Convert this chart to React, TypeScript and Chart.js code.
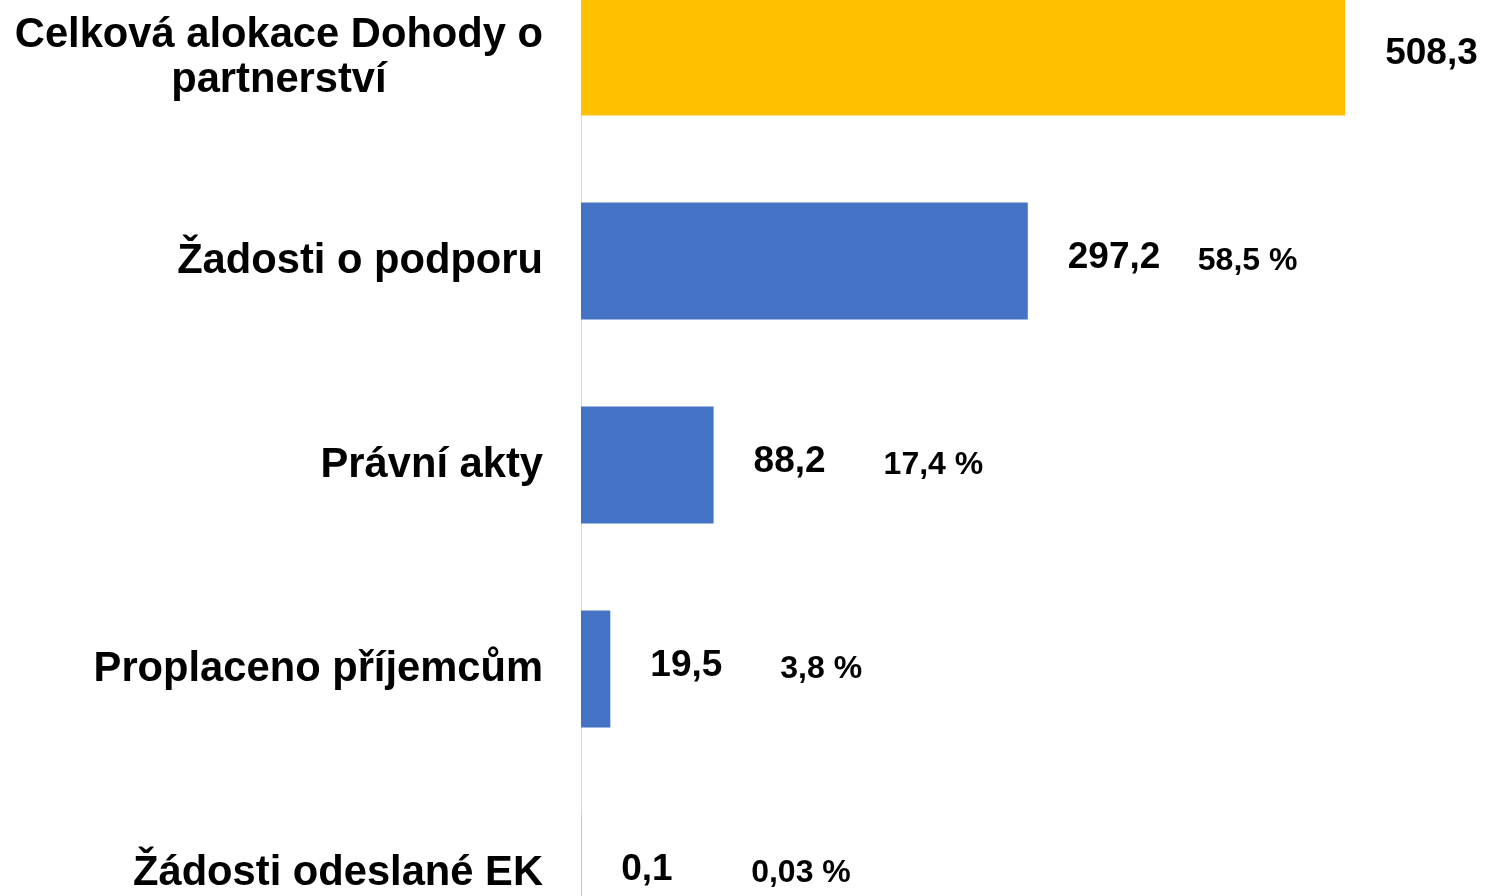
import React, { useEffect, useRef } from "react";
import { Chart, registerables } from "chart.js";

Chart.register(...registerables);

const categories: string[][] = [
  ["Celková alokace Dohody o", "partnerství"],
  ["Žadosti o podporu"],
  ["Právní akty"],
  ["Proplaceno příjemcům"],
  ["Žádosti odeslané EK"],
];
const values: number[] = [508.3, 297.2, 88.2, 19.5, 0.1];
const valueLabels: string[] = ["508,3", "297,2", "88,2", "19,5", "0,1"];
const percentLabels: string[] = ["", "58,5 %", "17,4 %", "3,8 %", "0,03 %"];
const barColors: string[] = ["#FFC000", "#4472C4", "#4472C4", "#4472C4", "#4472C4"];

const FONT = "'Liberation Sans', Arial, sans-serif";

const labelPlugin = {
  id: "customLabels",
  afterDraw(chart: any) {
    const ctx = chart.ctx;
    const yScale = chart.scales.y;
    const xScale = chart.scales.x;
    const area = chart.chartArea;
    ctx.save();
    ctx.fillStyle = "#000000";
    // category labels
    ctx.font = `bold 41.7px ${FONT}`;
    ctx.textBaseline = "middle";
    const rightEdge = area.left - 38;
    categories.forEach((lines, i) => {
      const cy = yScale.getPixelForValue(i);
      const widths = lines.map((l) => ctx.measureText(l).width);
      const maxW = Math.max(...widths);
      const blockCenter = rightEdge - maxW / 2;
      const lh = 45;
      const startY = cy - ((lines.length - 1) * lh) / 2;
      ctx.textAlign = "center";
      lines.forEach((l, j) => {
        ctx.fillText(l, blockCenter, startY + j * lh + 1);
      });
    });
    // value labels
    values.forEach((v, i) => {
      const cy = yScale.getPixelForValue(i);
      const xEnd = xScale.getPixelForValue(v);
      const vx = xEnd + 40;
      ctx.textAlign = "left";
      ctx.font = `bold 37px ${FONT}`;
      ctx.fillText(valueLabels[i], vx, cy - 3);
      if (percentLabels[i]) {
        ctx.font = `bold 32px ${FONT}`;
        ctx.fillText(percentLabels[i], vx + 130, cy);
      }
    });
    ctx.restore();
  },
};

export default function App() {
  const canvasRef = useRef<HTMLCanvasElement | null>(null);
  useEffect(() => {
    if (!canvasRef.current) return;
    const chart = new Chart(canvasRef.current, {
      type: "bar",
      data: {
        labels: categories.map((c) => c.join(" ")),
        datasets: [
          {
            data: values,
            backgroundColor: barColors,
            borderWidth: 0,
            barPercentage: 0.573,
            categoryPercentage: 1,
          },
        ],
      },
      options: {
        indexAxis: "y",
        animation: false,
        responsive: false,
        maintainAspectRatio: false,
        layout: { padding: { left: 581, right: 5, top: 0, bottom: 0 } },
        plugins: {
          legend: { display: false },
          tooltip: { enabled: false },
        },
        scales: {
          x: {
            display: false,
            min: 0,
            max: 600,
          },
          y: {
            display: true,
            grid: { display: false, drawTicks: false },
            border: { display: true, color: "#d9d9d9", width: 1 },
            ticks: { display: false },
          },
        },
      },
      plugins: [labelPlugin],
    });
    return () => chart.destroy();
  }, []);
  return (
    <div style={{ position: "absolute", left: 0, top: -45, width: 1488, height: 1020 }}>
      <canvas ref={canvasRef} width={1488} height={1020} style={{ display: "block" }} />
    </div>
  );
}
